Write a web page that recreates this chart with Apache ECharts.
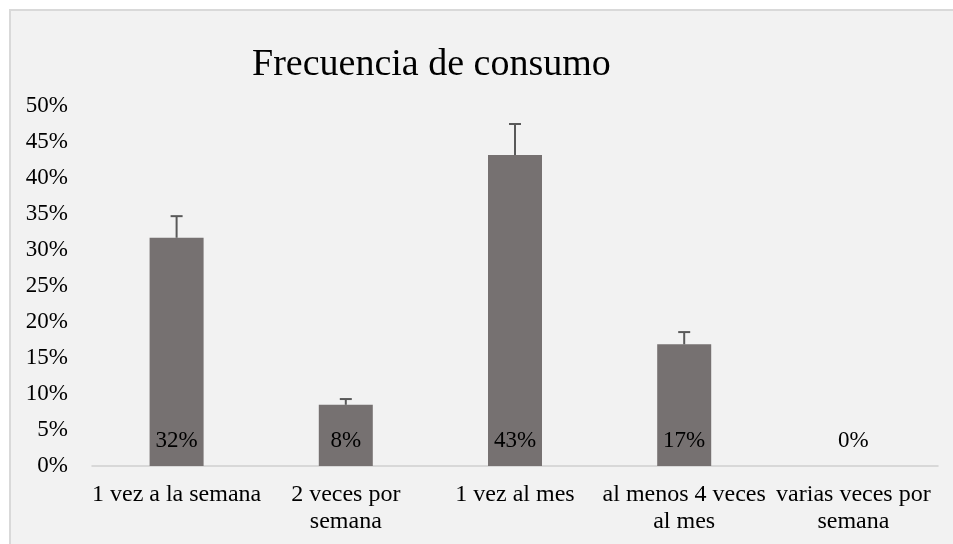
<!DOCTYPE html>
<html>
<head>
<meta charset="utf-8">
<script src="https://cdn.jsdelivr.net/npm/echarts@6/dist/echarts.min.js"></script>
<style>
 html, body { margin: 0; padding: 0; background: #fff; overflow: hidden; }
 #main { position: absolute; left: 9px; top: 9px; width: 960px; height: 545px;
   border-left: 2px solid #d9d9d9; border-top: 2px solid #d9d9d9; }
</style>
</head>
<body>
<div id="main"></div>
<script>
/** datos **/
var categories = ['1 vez a la semana', '2 veces por\nsemana', '1 vez al mes', 'al menos 4 veces\nal mes', 'varias veces por\nsemana'];
var values = [31.7, 8.5, 43.2, 16.9, 0];
var labels = ['32%', '8%', '43%', '17%', '0%'];
var errorTop = [34.7, 9.3, 47.5, 18.6, null];

var chart = echarts.init(document.getElementById('main'));
var font = "'Liberation Serif', 'Times New Roman', serif";

var errData = [];
errorTop.forEach(function(item, index) {
  if (item != null) errData.push([index, values[index], item]);
});

var option = {
  backgroundColor: '#f2f2f2',
  animation: false,
  title: {
    text: 'Frecuencia de consumo',
    left: 236,
    top: 30,
    textStyle: {
      fontFamily: font,
      fontSize: 38,
      fontWeight: 'normal',
      color: '#000'
    }
  },
  grid: {
    left: 81,
    right: 33,
    top: 95,
    bottom: 90
  },
  xAxis: {
    type: 'category',
    data: categories,
    axisLine: { lineStyle: { color: '#d0d0d0', width: 1.5 } },
    axisTick: { show: false },
    axisLabel: {
      fontFamily: font,
      fontSize: 24,
      color: '#000',
      margin: 15,
      lineHeight: 27,
      interval: 0
    }
  },
  yAxis: {
    type: 'value',
    min: 0,
    max: 50,
    interval: 5,
    axisLine: { show: false },
    axisTick: { show: false },
    splitLine: { show: false },
    axisLabel: {
      formatter: '{value}%',
      fontFamily: font,
      fontSize: 23,
      color: '#000',
      margin: 24
    }
  },
  series: [
    {
      type: 'bar',
      barWidth: 54,
      data: values,
      itemStyle: { color: '#767171' },
      label: {
        show: true,
        position: 'insideBottom',
        distance: 14,
        fontFamily: font,
        fontSize: 23,
        color: '#000',
        formatter: function(p) { return labels[p.dataIndex]; }
      }
    },
    {
      type: 'custom',
      data: errData,
      z: 3,
      renderItem: function(params, api) {
        var x = api.value(0);
        var p0 = api.coord([x, api.value(1)]);
        var p1 = api.coord([x, api.value(2)]);
        var style = { stroke: '#595959', lineWidth: 2 };
        return {
          type: 'group',
          children: [
            { type: 'line', shape: { x1: p0[0], y1: p0[1], x2: p1[0], y2: p1[1] }, style: style },
            { type: 'line', shape: { x1: p1[0] - 6, y1: p1[1], x2: p1[0] + 6, y2: p1[1] }, style: style }
          ]
        };
      }
    }
  ]
};
chart.setOption(option);
</script>
</body>
</html>
